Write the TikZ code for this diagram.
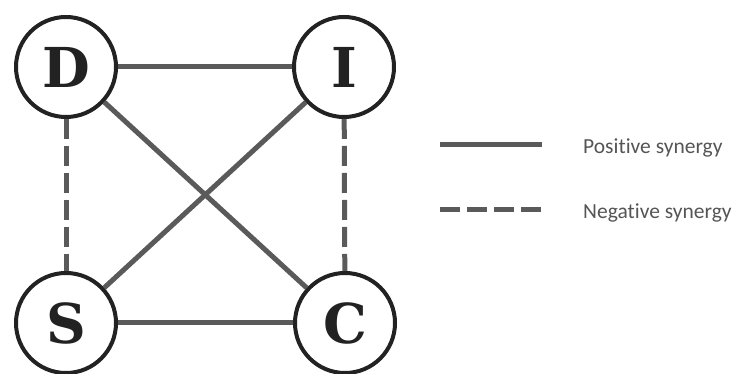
\documentclass[tikz,border=0pt]{standalone}
\usepackage{fontspec}
\setmainfont{Carlito}[Ligatures={NoCommon}]
\newfontfamily\letterfont{DejaVu Serif}
\definecolor{edgegray}{HTML}{5A5A5A}
\definecolor{ringdark}{HTML}{222222}
\definecolor{textgray}{HTML}{555555}
\begin{document}
\begin{tikzpicture}[x=1pt,y=1pt,
  person/.style={circle, draw=ringdark, line width=4pt, fill=white, minimum size=100pt, inner sep=0pt,
    font=\letterfont\bfseries\fontsize{55}{60}\selectfont, text=ringdark},
  posline/.style={draw=edgegray, line width=5pt},
  negline/.style={draw=edgegray, line width=5pt, dash pattern=on 20pt off 7pt},
  legtext/.style={anchor=west, inner sep=0pt, text=textgray, font=\fontsize{21.5}{24}\selectfont}]
\useasboundingbox (0,0) rectangle (746,374);
\node[person] (D) at (66,307) {D};
\node[person] (I) at (344,307) {I};
\node[person] (S) at (66,51) {S};
\node[person] (C) at (345,51) {C};
\path[posline] (D) -- (I);
\path[posline] (S) -- (C);
\path[posline] (D) -- (C);
\path[posline] (S) -- (I);
\path[negline] (D) -- (S);
\path[negline] (I) -- (C);
\coordinate (p1) at (440,229);
\coordinate (p2) at (542,229);
\coordinate (n1) at (440,164);
\coordinate (n2) at (542,164);
\path[posline] (p1) -- (p2);
\path[negline] (n1) -- (n2);
\node[legtext] (ptext) at (583,226) {Positive synergy};
\node[legtext] (ntext) at (583,161) {Negative synergy};
\end{tikzpicture}
\end{document}
